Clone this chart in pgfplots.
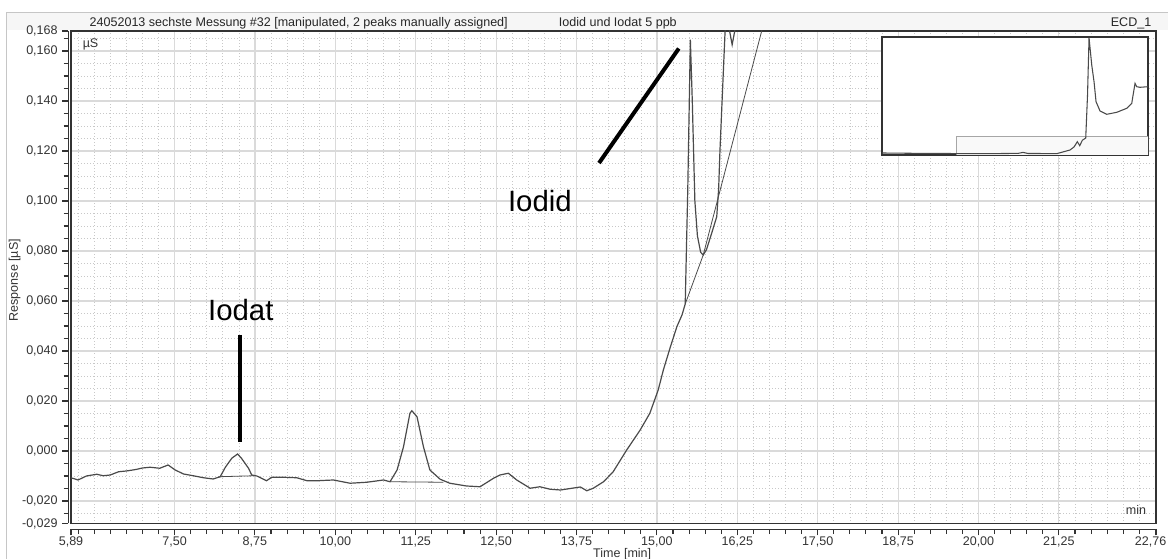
\documentclass[border=0pt]{standalone}
\usepackage{pgfplots}
\pgfplotsset{compat=1.18}
\usepackage{fontspec}
\setmainfont{Liberation Sans}

\definecolor{curve}{HTML}{4A4A4A}
\definecolor{frame}{HTML}{333333}
\definecolor{gridmaj}{HTML}{DADADA}
\definecolor{gridmin}{HTML}{C8C8C8}

\pgfplotstableread{
x y
5.89 -0.0108
5.93 -0.0110
6.00 -0.0116
6.13 -0.0100
6.29 -0.0093
6.39 -0.0099
6.50 -0.0096
6.63 -0.0083
6.75 -0.0080
6.90 -0.0074
7.00 -0.0068
7.12 -0.0065
7.27 -0.0069
7.40 -0.0056
7.51 -0.0076
7.64 -0.0092
7.79 -0.0099
7.95 -0.0107
8.10 -0.0112
8.21 -0.0103
8.29 -0.0065
8.39 -0.0029
8.48 -0.0012
8.54 -0.0029
8.65 -0.0069
8.70 -0.0096
8.78 -0.0100
8.93 -0.0119
9.01 -0.0105
9.19 -0.0105
9.40 -0.0107
9.56 -0.0119
9.71 -0.0119
9.97 -0.0116
10.23 -0.0129
10.49 -0.0125
10.75 -0.0116
10.85 -0.0123
10.96 -0.0076
11.06 0.0017
11.16 0.0151
11.19 0.0161
11.27 0.0137
11.37 0.0017
11.47 -0.0076
11.63 -0.0113
11.78 -0.0129
12.04 -0.0140
12.25 -0.0143
12.46 -0.0109
12.56 -0.0096
12.69 -0.0089
12.82 -0.0116
13.03 -0.0149
13.18 -0.0143
13.34 -0.0153
13.50 -0.0156
13.81 -0.0144
13.91 -0.0159
14.01 -0.0149
14.17 -0.0123
14.32 -0.0083
14.53 0.0004
14.74 0.0084
14.89 0.0151
15.02 0.0244
15.10 0.0324
15.21 0.0417
15.31 0.0497
15.39 0.0544
15.44 0.0588
15.48 0.1050
15.52 0.1645
15.55 0.1400
15.59 0.1000
15.63 0.0860
15.68 0.0795
15.72 0.0784
15.77 0.0805
15.85 0.0870
15.93 0.0937
15.96 0.1050
15.98 0.1200
16.03 0.1500
16.06 0.1680
16.09 0.1780
16.13 0.1680
16.17 0.1625
16.21 0.1680
16.26 0.1850
16.30 0.2000
}\signal

\begin{document}
\begin{tikzpicture}[x=0.75pt,y=0.75pt,font=\fontsize{9.4}{10}\selectfont]
\path[use as bounding box] (0,0) rectangle (1168,559);
\fill[gray!7] (6,529) rectangle (1168,547);
\draw[gray!45] (6,0) -- (6,547) -- (1168,547);

% main plot area: grid, frame and data
\begin{axis}[
  at={(53.25pt,26.625pt)}, anchor=south west,
  scale only axis, width=813.75pt, height=369.375pt,
  xmin=5.89, xmax=22.76, ymin=-0.029, ymax=0.168,
  xtick={7.5,8.75,...,21.25},
  minor xtick={6,6.25,...,22.75},
  ytick={-0.02,0,...,0.16},
  minor ytick={-0.025,-0.02,...,0.165},
  xticklabels={}, yticklabels={},
  major tick length=0pt, minor tick length=0pt,
  grid=both,
  major grid style={gridmaj, line width=0.9pt},
  minor grid style={gridmin, dotted, line width=0.5pt},
  axis line style={frame, line width=1.4pt},
]
\addplot[curve, line width=0.9pt] table {\signal};
\addplot[curve, line width=0.6pt] coordinates {(8.18,-0.0103) (8.75,-0.0099)};
\addplot[curve, line width=0.6pt] coordinates {(10.85,-0.0123) (11.68,-0.0125)};
\addplot[curve, line width=0.6pt] coordinates {(15.44,0.0588) (15.72,0.0784) (16.70,0.1750)};
\draw[black, line width=3pt] (axis cs:8.52,0.0464) -- (axis cs:8.52,0.0037);
\draw[black, line width=3pt] (axis cs:14.10,0.1152) -- (axis cs:15.34,0.1610);
\node[font=\fontsize{22}{26}\selectfont] at (axis cs:8.53,0.0564) {Iodat};
\node[font=\fontsize{22}{26}\selectfont] at (axis cs:13.18,0.1000) {Iodid};
\end{axis}

% offset axis lines with ticks and labels
\begin{axis}[
  at={(53.25pt,26.625pt)}, anchor=south west,
  scale only axis, width=813.75pt, height=369.375pt,
  xmin=5.89, xmax=22.76, ymin=-0.029, ymax=0.168,
  axis x line*=bottom, axis y line*=left,
  axis x line shift=4.5pt, axis y line shift=2pt,
  every inner x axis line/.append style={-},
  every inner y axis line/.append style={-},
  every outer x axis line/.append style={-},
  every outer y axis line/.append style={-},
  axis line style={frame, line width=0.8pt, -},
  xtick={5.89,7.5,8.75,10,11.25,12.5,13.75,15,16.25,17.5,18.75,20,21.25,22.76},
  xticklabels={{5,89},{7,50},{8,75},{10,00},{11,25},{12,50},{13,75},{15,00},{16,25},{17,50},{18,75},{20,00},{21,25},{\hspace*{-8pt}22,76}},
  minor xtick={6,6.25,...,22.75},
  ytick={-0.029,-0.02,0,0.02,0.04,0.06,0.08,0.1,0.12,0.14,0.16,0.168},
  yticklabels={{-0,029},{-0,020},{0,000},{0,020},{0,040},{0,060},{0,080},{0,100},{0,120},{0,140},{0,160},{0,168}},
  minor ytick={-0.025,-0.02,...,0.165},
  tick align=outside,
  major tick length=4.5pt, minor tick length=3.5pt,
  tick style={frame, line width=0.8pt},
  xticklabel style={text=black!80, yshift=2.5pt},
  yticklabel style={text=black!80},
  xlabel={Time [min]}, ylabel={Response [µS]},
  xlabel style={at={(axis description cs:0.508,-0.063)}, anchor=center, text=black!80},
  ylabel style={at={(axis description cs:-0.052,0.494)}, anchor=center, rotate=0, text=black!80},
  clip=false,
]
\node[anchor=west, text=black!85] at (axis description cs:0.0129,1.016) {24052013 sechste Messung \#32 [manipulated, 2 peaks manually assigned]};
\node[text=black!85] at (axis description cs:0.504,1.016) {Iodid und Iodat 5 ppb};
\node[text=black!85] at (axis description cs:0.977,1.016) {ECD\_1};
\node[anchor=west, text=black!80] at (axis description cs:0.0065,0.9736) {µS};
\node[text=black!80] at (axis description cs:0.9816,0.0274) {min};
\end{axis}

% overview inset
\begin{axis}[
  at={(661.5pt,303pt)}, anchor=south west,
  scale only axis, width=199.5pt, height=88.7pt,
  xmin=0, xmax=266, ymin=0, ymax=118.3,
  xtick=\empty, ytick=\empty,
  axis background/.style={fill=white},
  axis line style={frame, line width=1.4pt},
]
\addplot[draw=gray!70, fill=gray!5, line width=0.6pt] coordinates {(74,0) (74,18.3) (266,18.3) (266,0)};
\addplot[curve, line width=0.8pt] coordinates {
(0,2.0) (30,1.7) (60,1.5) (100,1.3) (136,1.6) (141,2.6) (146,1.5) (175,1.4)
(188,5.0) (192,8.0) (195.3,13.3) (197.7,9.3) (200.3,14.7) (203.7,17.0)
(205.5,60) (207,117.3) (209.7,90) (212,73.3) (214,53.3) (218,44) (224.7,40.7)
(234.7,42.7) (244.7,46.7) (249.7,51.7) (253,71.7) (254.7,68.3) (258,67.7) (265.7,68.3)};
\end{axis}
\end{tikzpicture}
\end{document}
